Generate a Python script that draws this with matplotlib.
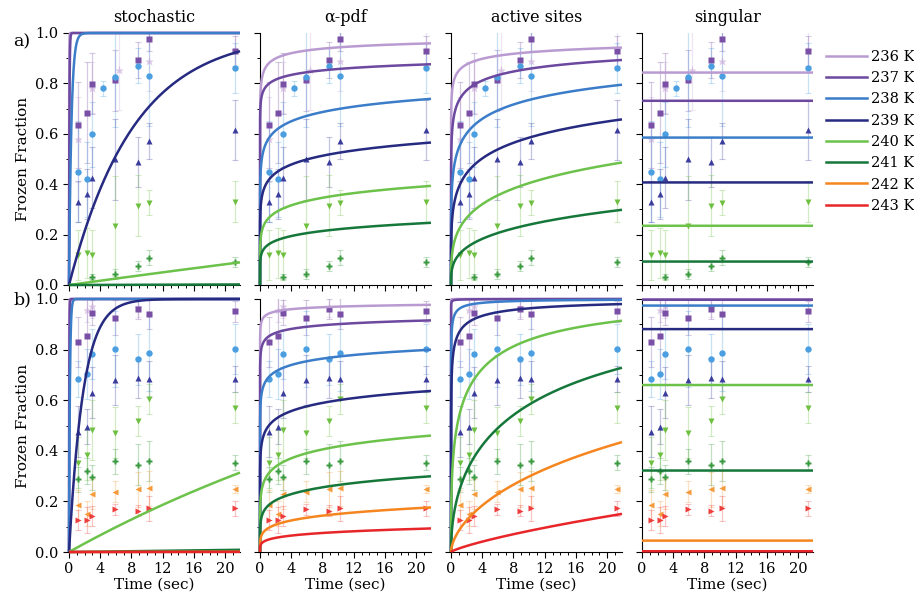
import numpy as np
import matplotlib
matplotlib.use("Agg")
import matplotlib.pyplot as plt
from matplotlib.lines import Line2D
from matplotlib.ticker import MultipleLocator

plt.rcParams['font.family'] = ['DejaVu Serif']
plt.rcParams['mathtext.fontset'] = 'dejavuserif'

# ---------------- temperatures, colours, markers ----------------
temps = ["236 K", "237 K", "238 K", "239 K", "240 K", "241 K", "242 K", "243 K"]
line_colors = ["#b99bd2", "#6c489f", "#3b7dc8", "#262a80",
               "#6cc24a", "#16773a", "#f5861f", "#e8262a"]
marker_colors = ["#c9aad9", "#7a4fa6", "#4b9fe0", "#3b3d9c",
                 "#6ec040", "#3a9a40", "#f59a3a", "#ee3d3d"]
markers = ["*", "s", "o", "^", "v", "P", "<", ">"]

models = ["stochastic", "α-pdf", "active sites", "singular"]
t_end = 21.9

# ---------------- measured frozen fractions (row a) ----------------
a_time = [
    [1.1, 3.0, 6.4, 10.2, 21.2],
    [1.1, 2.3, 3.0, 5.9, 8.9, 10.2, 21.2],
    [1.1, 2.3, 3.0, 4.3, 5.9, 8.9, 10.2, 21.2],
    [1.1, 2.3, 3.0, 5.9, 8.9, 10.2, 21.2],
    [1.1, 2.3, 3.0, 5.9, 8.9, 10.2, 21.2],
    [3.0, 5.9, 8.9, 10.2, 21.2],
]
a_frac = [
    [0.578, 0.783, 0.853, 0.888, 0.933],
    [0.635, 0.684, 0.799, 0.812, 0.893, 0.977, 0.930],
    [0.450, 0.419, 0.598, 0.780, 0.827, 0.870, 0.829, 0.860],
    [0.331, 0.360, 0.426, 0.499, 0.489, 0.571, 0.615],
    [0.120, 0.128, 0.118, 0.234, 0.315, 0.327, 0.331],
    [0.032, 0.042, 0.077, 0.108, 0.091],
]
a_err = [
    [0.17, 0.10, 0.16, 0.12, 0.07],
    [0.17, 0.20, 0.12, 0.12, 0.07, 0.05, 0.06],
    [0.20, 0.15, 0.13, 0.03, 0.20, 0.07, 0.20, 0.10],
    [0.08, 0.10, 0.12, 0.16, 0.10, 0.07, 0.12],
    [0.10, 0.10, 0.10, 0.20, 0.12, 0.05, 0.08],
    [0.01, 0.02, 0.02, 0.03, 0.02],
]

# ---------------- measured frozen fractions (row b) ----------------
b_time = [
    [2.3, 3.0, 8.9],
    [1.1, 2.3, 3.0, 5.9, 8.9, 10.2, 21.2],
    [1.1, 2.3, 3.0, 5.9, 8.9, 10.2, 21.2],
    [1.1, 2.3, 3.0, 5.9, 8.9, 10.2, 21.2],
    [1.1, 2.3, 3.0, 5.9, 8.9, 10.2, 21.2],
    [1.1, 2.3, 3.0, 5.9, 8.9, 10.2, 21.2],
    [1.1, 2.3, 3.0, 5.9, 8.9, 10.2, 21.2],
    [1.1, 2.3, 3.0, 5.9, 8.9, 10.2, 21.2],
]
b_frac = [
    [0.958, 0.974, 0.970],
    [0.830, 0.852, 0.946, 0.926, 0.959, 0.942, 0.951],
    [0.683, 0.703, 0.782, 0.802, 0.762, 0.787, 0.803],
    [0.476, 0.495, 0.630, 0.680, 0.688, 0.683, 0.684],
    [0.353, 0.384, 0.482, 0.472, 0.519, 0.605, 0.571],
    [0.287, 0.320, 0.295, 0.358, 0.345, 0.359, 0.353],
    [0.185, 0.152, 0.229, 0.239, 0.248, 0.251, 0.250],
    [0.125, 0.127, 0.141, 0.168, 0.164, 0.172, 0.173],
]
b_err = [
    [0.05, 0.05, 0.04],
    [0.10, 0.15, 0.05, 0.07, 0.04, 0.06, 0.04],
    [0.07, 0.10, 0.10, 0.15, 0.10, 0.15, 0.10],
    [0.10, 0.07, 0.10, 0.10, 0.08, 0.07, 0.05],
    [0.10, 0.10, 0.12, 0.10, 0.06, 0.06, 0.06],
    [0.05, 0.05, 0.05, 0.05, 0.08, 0.08, 0.03],
    [0.06, 0.05, 0.06, 0.04, 0.07, 0.07, 0.015],
    [0.04, 0.05, 0.04, 0.02, 0.02, 0.05, 0.03],
]

# ---------------- model parameters ----------------
# stochastic: f = 1 - exp(-k t)
stoch_k_a = [60.0, 20.0, 3.3, 0.12, 0.0043, 0.0001]
stoch_k_b = [80.0, 30.0, 9.0, 0.55, 0.0172, 0.0004, 0.00005, 0.00002]
# alpha-pdf and active sites: f = 1 - exp(-A t^beta)
apdf_A_a = [2.085, 1.586, 0.858, 0.531, 0.304, 0.173]
apdf_B_a = [0.138, 0.089, 0.145, 0.146, 0.161, 0.160]
apdf_A_b = [2.822, 1.895, 1.162, 0.682, 0.366, 0.201, 0.098, 0.0494]
apdf_B_b = [0.094, 0.086, 0.105, 0.128, 0.169, 0.185, 0.221, 0.221]
act_A_a = [1.901, 1.314, 0.786, 0.492, 0.248, 0.128]
act_B_a = [0.131, 0.172, 0.227, 0.252, 0.320, 0.330]
act_A_b = [9.0, 6.0, 3.22, 2.008, 0.760, 0.270, 0.0878, 0.01382]
act_B_b = [0.10, 0.12, 0.19, 0.216, 0.38, 0.51, 0.606, 0.80]
# singular: time independent frozen fraction
sing_a = [0.843, 0.731, 0.585, 0.407, 0.235, 0.093]
sing_b = [0.999, 0.997, 0.974, 0.881, 0.660, 0.322, 0.045, 0.003]

t = np.concatenate([[0.0], np.geomspace(1e-4, t_end, 2000)])


def curves(col, row, n):
    out = []
    for i in range(n):
        if col == 0:
            k = (stoch_k_a if row == 0 else stoch_k_b)[i]
            out.append(1 - np.exp(-k * t))
        elif col == 1:
            A = (apdf_A_a if row == 0 else apdf_A_b)[i]
            B = (apdf_B_a if row == 0 else apdf_B_b)[i]
            out.append(1 - np.exp(-A * t ** B))
        elif col == 2:
            A = (act_A_a if row == 0 else act_A_b)[i]
            B = (act_B_a if row == 0 else act_B_b)[i]
            out.append(1 - np.exp(-A * t ** B))
        else:
            lvl = (sing_a if row == 0 else sing_b)[i]
            out.append(np.full_like(t, lvl))
    return out


W, H = 914, 596
fig = plt.figure(figsize=(W / 100, H / 100), dpi=100)

col_left = [69, 260, 451, 642]
col_w = 171
rows = [(33, 285), (299, 552)]

for r, (ytop, ybot) in enumerate(rows):
    times = a_time if r == 0 else b_time
    fracs = a_frac if r == 0 else b_frac
    errs = a_err if r == 0 else b_err
    n = len(times)
    for c in range(4):
        ax = fig.add_axes([col_left[c] / W, 1 - ybot / H, col_w / W, (ybot - ytop) / H])
        for i in range(n):
            ax.errorbar(times[i], fracs[i], yerr=errs[i], fmt="none",
                        ecolor=marker_colors[i], alpha=0.3, elinewidth=0.9,
                        capsize=2, capthick=0.8, zorder=2)
            ms = 6.5 if markers[i] == "*" else 4.6
            ax.plot(times[i], fracs[i], linestyle="none", marker=markers[i],
                    ms=ms, color=marker_colors[i], mec="none",
                    alpha=0.6 if i == 0 else 1.0, zorder=3)
        for i, y in enumerate(curves(c, r, n)):
            ax.plot(t, y, color=line_colors[i], lw=1.8, zorder=4, clip_on=False,
                    solid_capstyle="butt")
        ax.set_xlim(0, t_end)
        ax.set_ylim(0, 1.0)
        for s in ("top", "right"):
            ax.spines[s].set_visible(False)
        ax.xaxis.set_major_locator(MultipleLocator(4))
        ax.xaxis.set_minor_locator(MultipleLocator(1))
        ax.yaxis.set_major_locator(MultipleLocator(0.2))
        ax.yaxis.set_minor_locator(MultipleLocator(0.1))
        ax.tick_params(which="major", direction="out", length=4, width=0.8, labelsize=10.5)
        ax.tick_params(which="minor", direction="out", length=2.5, width=0.7)
        if c != 0:
            ax.tick_params(labelleft=False)
        else:
            ax.set_ylabel("Frozen Fraction", fontsize=11, labelpad=4)
        if r == 0:
            ax.tick_params(labelbottom=False)
            ax.set_title(models[c], fontsize=11.5, pad=8)
        else:
            ax.set_xlabel("Time (sec)", fontsize=11, labelpad=1)

fig.text(22 / W, 1 - 42 / H, "a)", fontsize=12.5, ha="center", va="center")
fig.text(22 / W, 1 - 300 / H, "b)", fontsize=12.5, ha="center", va="center")

handles = [Line2D([0], [0], color=line_colors[i], lw=1.8) for i in range(len(temps))]
fig.legend(handles, temps, loc="upper left", bbox_to_anchor=(820 / W, 1 - 44 / H),
           frameon=False, fontsize=10.5, handlelength=2.8, handletextpad=0.3,
           labelspacing=0.5, borderaxespad=0)

fig.savefig("out.png", dpi=100)
